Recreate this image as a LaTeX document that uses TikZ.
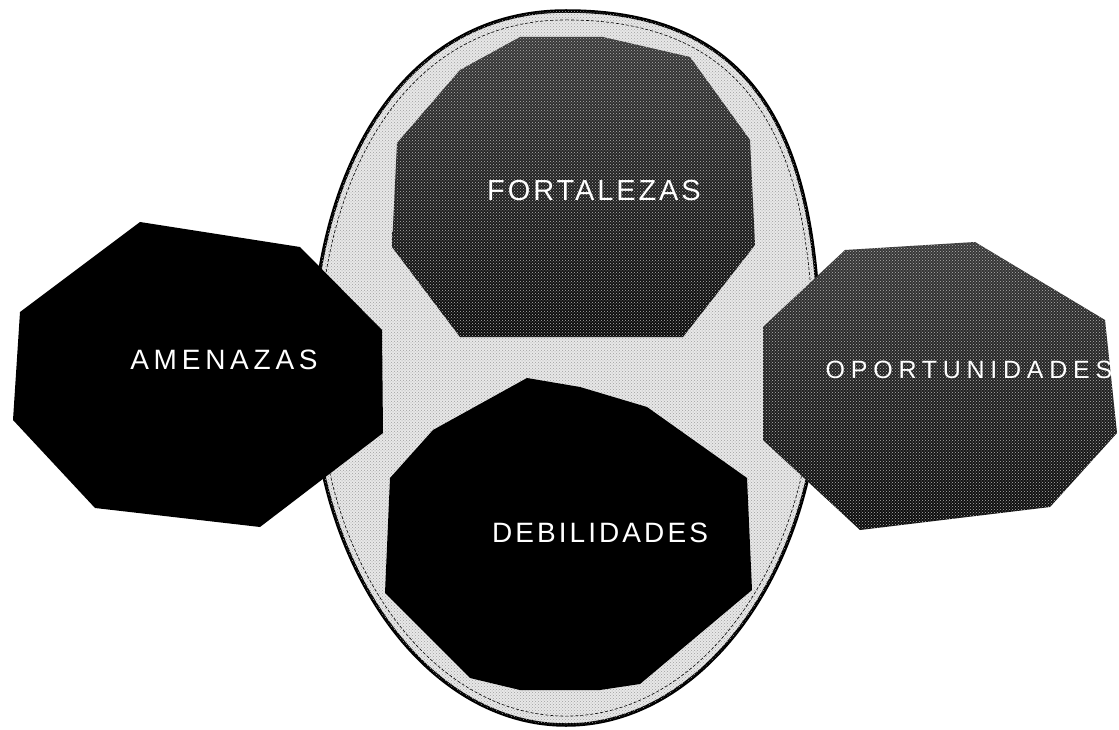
\documentclass[tikz,border=0pt]{standalone}
\usepackage{fontspec}
\setmainfont{Liberation Sans}
\usetikzlibrary{patterns}
\tikzset{
  ring/.style={draw=black, line width=3.5pt, fill=gray!18},
  texblock/.style={draw=none},
  solidblock/.style={draw=none, fill=black},
  dotsover/.style={pattern=crosshatch dots, pattern color=gray!75},
  lbl/.style={text=white, inner sep=0pt, font=\fontsize{28}{30}\selectfont}
}
\begin{document}
\begin{tikzpicture}[x=1pt,y=-1pt]
\useasboundingbox (0,0) rectangle (1119,730);
\fill[white] (0,0) rectangle (1119,730);
% central ring (rounded oval)
\draw[ring] (566,11) .. controls (769,11) and (820,154) .. (820,368)
  .. controls (820,565) and (706,725) .. (566,725)
  .. controls (426,725) and (312,565) .. (312,368)
  .. controls (312,172) and (401,11) .. (566,11) -- cycle;
\fill[dotsover] (566,11) .. controls (769,11) and (820,154) .. (820,368)
  .. controls (820,565) and (706,725) .. (566,725)
  .. controls (426,725) and (312,565) .. (312,368)
  .. controls (312,172) and (401,11) .. (566,11) -- cycle;
\draw[black, line width=0.6pt, densely dashed, scale around={0.975:(566,368)}]
  (566,11) .. controls (769,11) and (820,154) .. (820,368)
  .. controls (820,565) and (706,725) .. (566,725)
  .. controls (426,725) and (312,565) .. (312,368)
  .. controls (312,172) and (401,11) .. (566,11) -- cycle;
% FORTALEZAS octagon
\path[texblock, top color=gray!45!black, bottom color=gray!8!black]
  (520,37) -- (603,37) -- (690,57) -- (750,140) -- (755,245) -- (683,337) -- (460,337) -- (392,247) -- (397,143) -- (460,70) -- cycle;
\fill[dotsover, pattern color=gray!60]
  (520,37) -- (603,37) -- (690,57) -- (750,140) -- (755,245) -- (683,337) -- (460,337) -- (392,247) -- (397,143) -- (460,70) -- cycle;
% DEBILIDADES octagon
\path[solidblock]
  (527,378) -- (580,387) -- (647,407) -- (747,478) -- (752,590) -- (640,684) -- (600,690) -- (520,690) -- (470,678) -- (385,593) -- (390,478) -- (433,430) -- cycle;
% AMENAZAS octagon
\path[solidblock]
  (140,222) -- (300,247) -- (382,330) -- (383,433) -- (260,527) -- (95,508) -- (13,420) -- (20,312) -- cycle;
% OPORTUNIDADES octagon
\path[texblock, top color=gray!45!black, bottom color=gray!8!black]
  (845,250) -- (975,242) -- (1105,320) -- (1117,433) -- (1050,507) -- (860,530) -- (763,440) -- (763,327) -- cycle;
\fill[dotsover, pattern color=gray!60]
  (845,250) -- (975,242) -- (1105,320) -- (1117,433) -- (1050,507) -- (860,530) -- (763,440) -- (763,327) -- cycle;
% labels
\node[lbl, font=\fontsize{29}{31}\selectfont] (fort) at (594,191) {\addfontfeatures{LetterSpace=10}FORTALEZAS};
\node[lbl] (amen) at (224,360) {\addfontfeatures{LetterSpace=17}AMENAZAS};
\node[lbl] (debi) at (600,533) {\addfontfeatures{LetterSpace=11}DEBILIDADES};
\node[lbl, font=\fontsize{25}{27}\selectfont] (opor) at (969,370) {\addfontfeatures{LetterSpace=23}OPORTUNIDADES};
\end{tikzpicture}
\end{document}
